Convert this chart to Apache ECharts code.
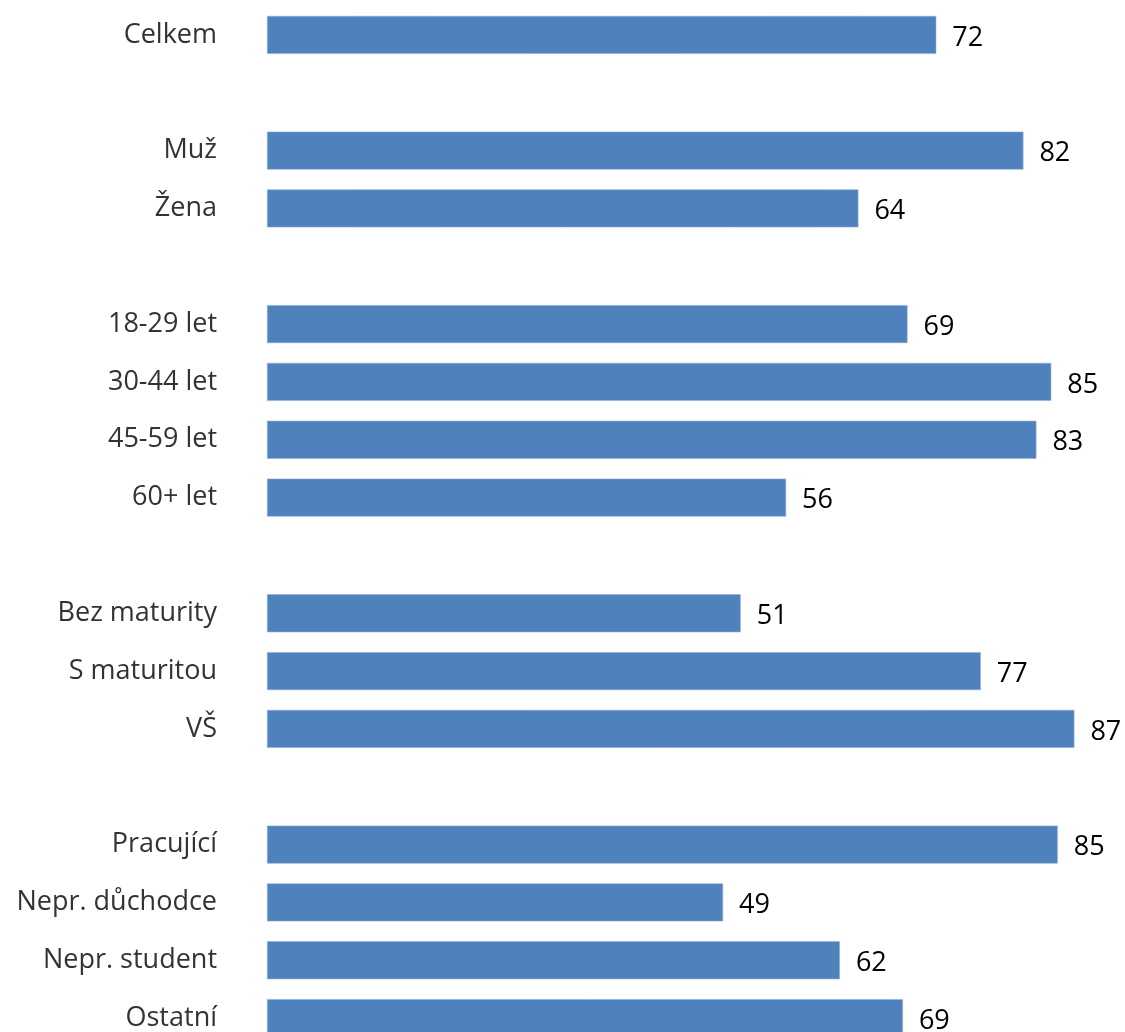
<!DOCTYPE html>
<html>
<head>
<meta charset="utf-8">
<script src="https://cdn.jsdelivr.net/npm/echarts@6/dist/echarts.min.js"></script>
<style>
html,body{margin:0;padding:0;background:#fff;}
#chart{width:1125px;height:1032px;}
</style>
</head>
<body>
<div id="chart"></div>
<script>
const categories = ["Celkem", "", "Muž", "Žena", " ", "18-29 let", "30-44 let", "45-59 let", "60+ let", "  ", "Bez maturity", "S maturitou", "VŠ", "   ", "Pracující", "Nepr. důchodce", "Nepr. student", "Ostatní"];
const values = [72.2, null, 81.6, 63.8, null, 69.1, 84.6, 83.0, 56.0, null, 51.1, 77.0, 87.1, null, 85.3, 49.2, 61.8, 68.6];

const chart = echarts.init(document.getElementById('chart'), null, {renderer: 'canvas'});
chart.setOption({
  animation: false,
  backgroundColor: '#ffffff',
  grid: {left: 267, top: 6, height: 1041, width: 834.3, containLabel: false, outerBoundsMode: 'none'},
  xAxis: {
    type: 'value', min: 0, max: 90, show: false
  },
  yAxis: {
    type: 'category', inverse: true, data: categories,
    axisLine: {show: false}, axisTick: {show: false}, splitLine: {show: false},
    axisLabel: {
      margin: 50, fontFamily: 'Open Sans', fontSize: 27, color: '#333333',
      padding: [4, 0, 0, 0]
    }
  },
  series: [{
    type: 'bar', data: values, barWidth: 38,
    itemStyle: {color: '#4F81BD', borderColor: '#8EAEDA', borderWidth: 0.6},
    label: {
      show: true, position: 'right', distance: 16,
      fontFamily: 'Open Sans', fontSize: 27, color: '#000000',
      offset: [0, 3],
      formatter: p => Math.round(p.value)
    }
  }]
});
</script>
</body>
</html>
